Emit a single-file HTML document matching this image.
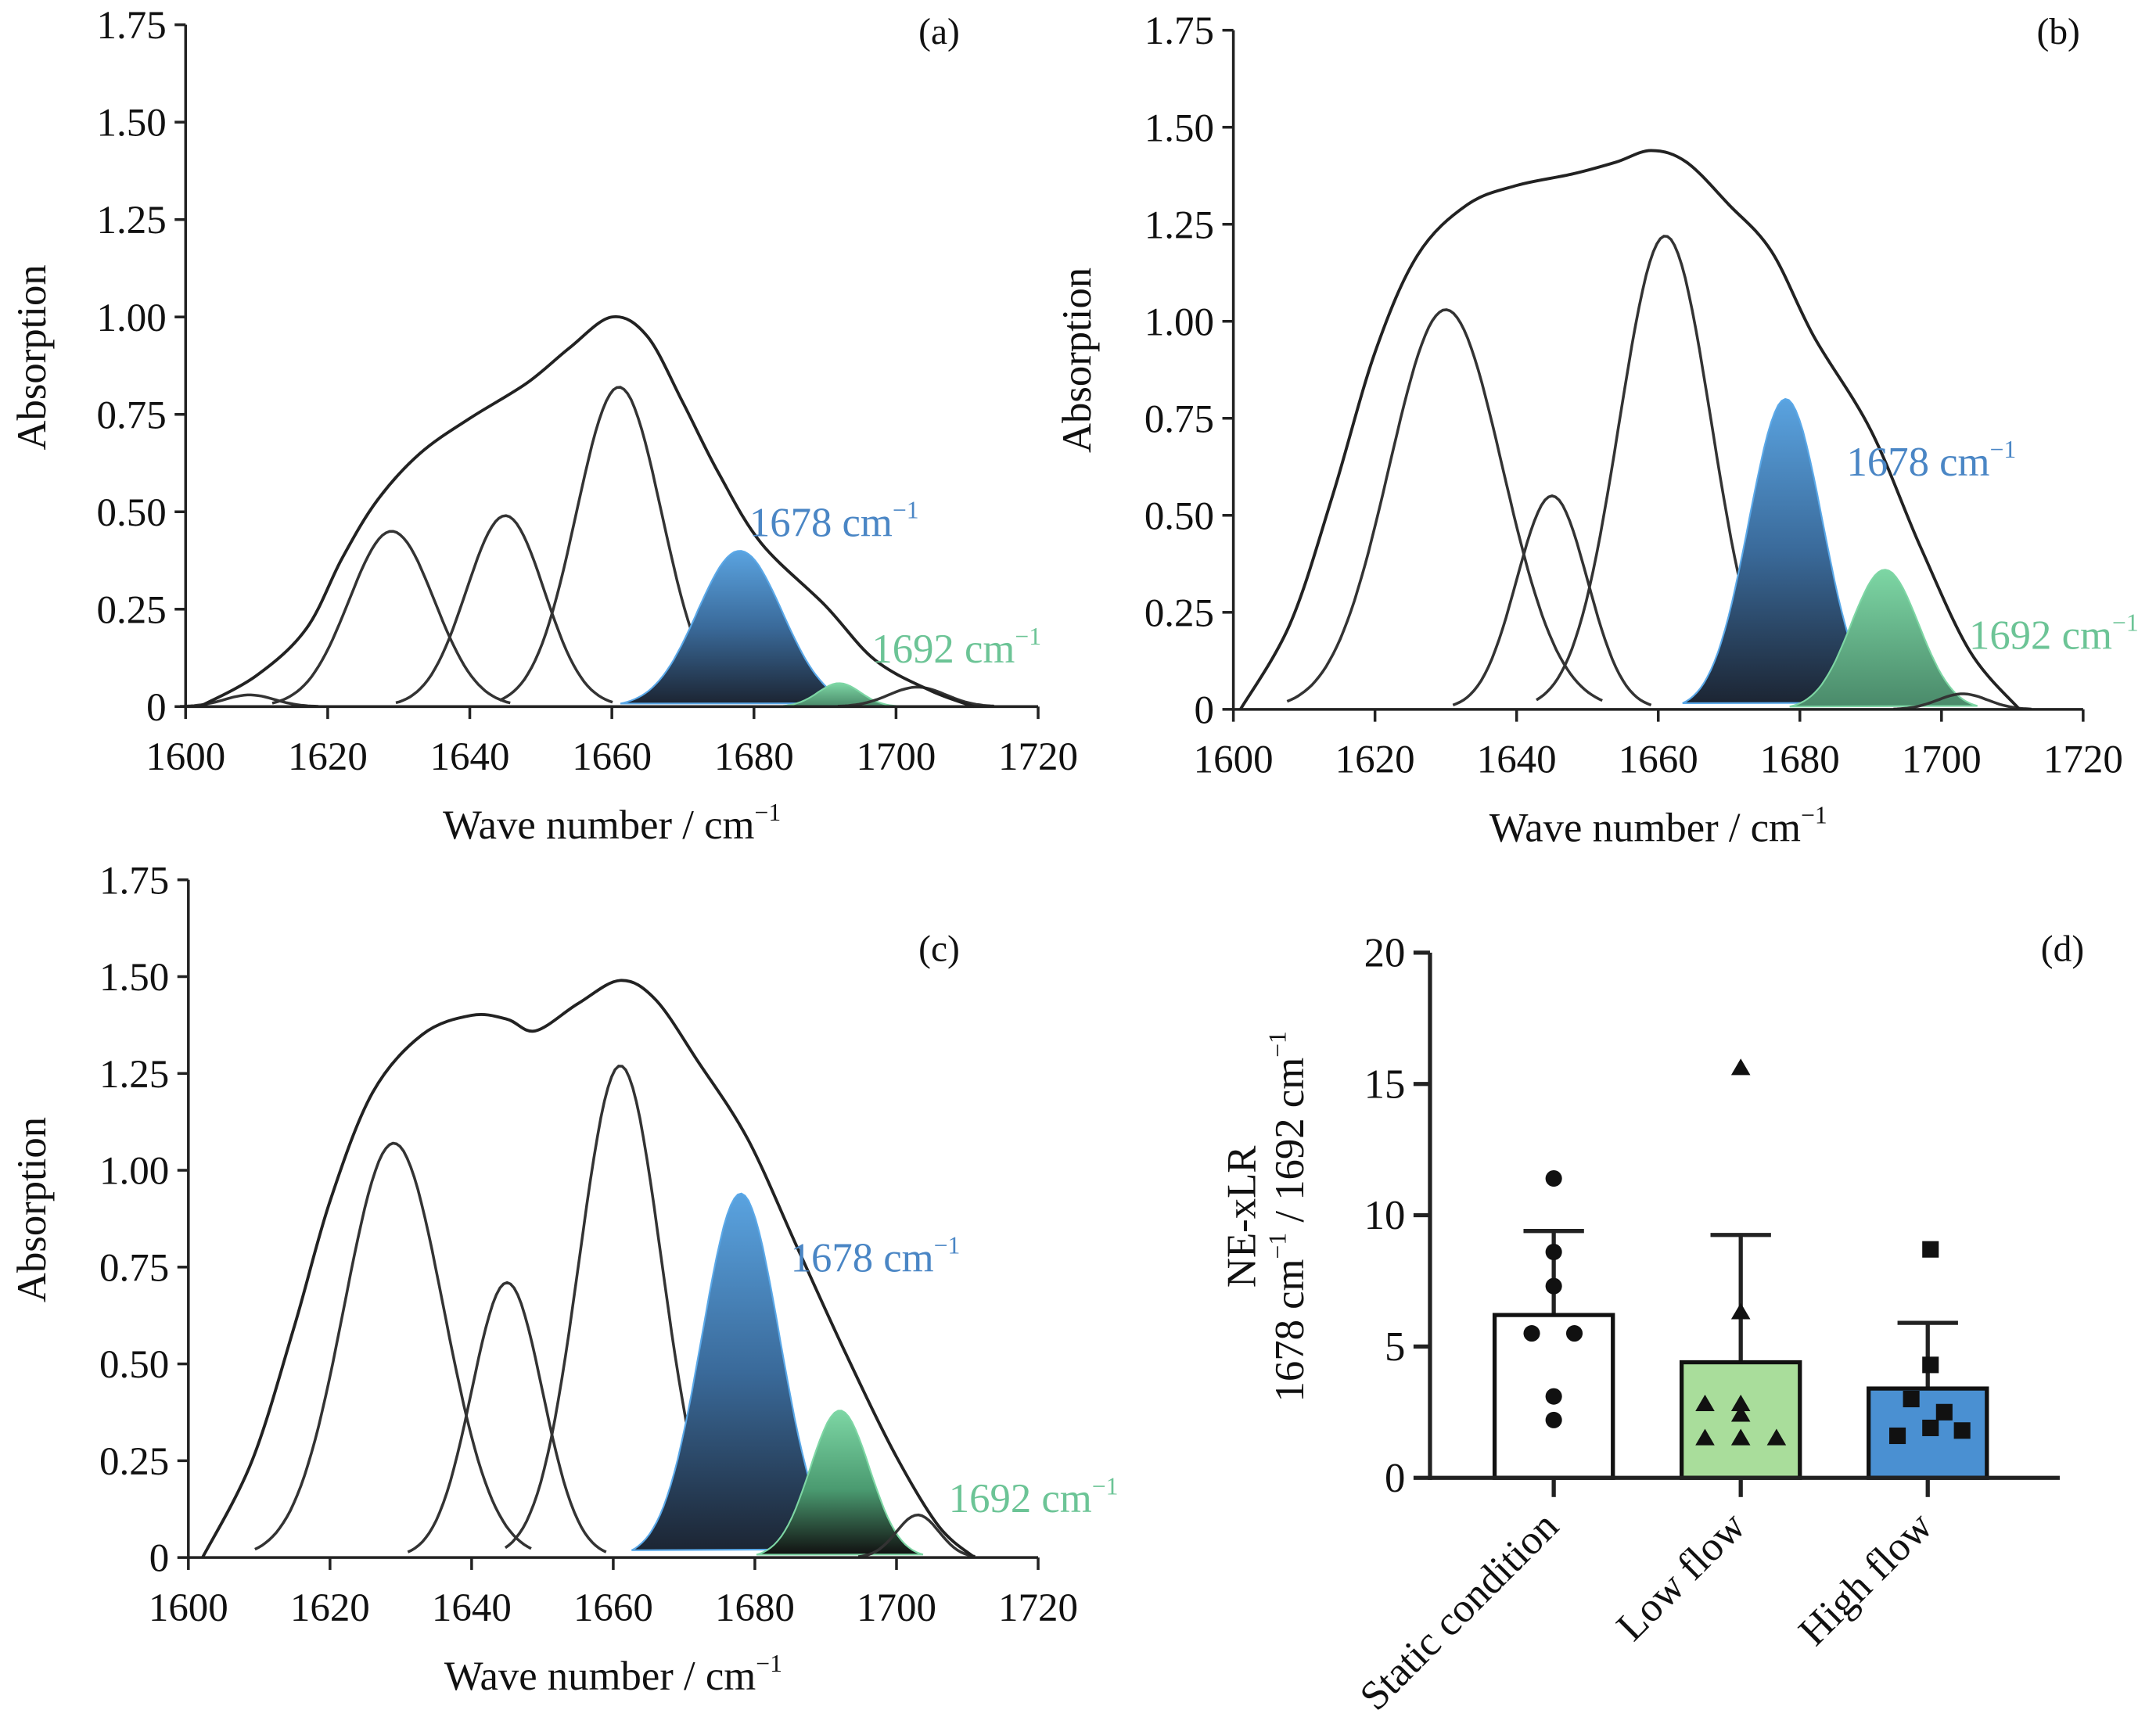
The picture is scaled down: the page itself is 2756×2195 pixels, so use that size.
<!DOCTYPE html>
<html><head><meta charset="utf-8"><style>
html,body{margin:0;padding:0;background:#fff;}
svg{display:block;}
text{font-family:"Liberation Serif",serif;fill:#111;}
</style></head><body>
<svg id="s" width="2756" height="2195" viewBox="0 0 1568 1249" preserveAspectRatio="none" xmlns="http://www.w3.org/2000/svg" font-family="Liberation Serif, serif">
<defs>
<linearGradient id="gb" x1="0" y1="0" x2="0" y2="1"><stop offset="0" stop-color="#5aa3e0"/><stop offset="0.5" stop-color="#3a6a9a"/><stop offset="1" stop-color="#1c2533"/></linearGradient>
<linearGradient id="gg" x1="0" y1="0" x2="0" y2="1"><stop offset="0" stop-color="#7dd6a4"/><stop offset="1" stop-color="#4a8a6a"/></linearGradient>
<linearGradient id="gg2" x1="0" y1="0" x2="0" y2="1"><stop offset="0" stop-color="#7dd6a4"/><stop offset="0.55" stop-color="#4a9a70"/><stop offset="1" stop-color="#111"/></linearGradient>
</defs>
<g id="g"></g>
</svg>
<script>
var G=document.getElementById('g'),out='';
function T(x,y,s,sz,anc,extra,col){out+='<text font-family="Liberation Serif, serif" x="'+x+'" y="'+y+'" font-size="'+sz+'" text-anchor="'+(anc||'start')+'" '+(extra||'')+(col?' style="fill:'+col+'"':'')+'>'+s+'</text>';}
function L(x1,y1,x2,y2,w,c){out+='<line x1="'+x1+'" y1="'+y1+'" x2="'+x2+'" y2="'+y2+'" stroke="'+(c||'#222')+'" stroke-width="'+(w||2)+'"/>';}
function panel(P){
 var X=function(v){return P.x0+(v-1600)/120*(P.x1-P.x0)},Y=function(v){return P.y0-(v/1.75)*(P.y0-P.yt)};
 P.comps.forEach(function(c){
  var pts=[];for(var v=c[0]-2.8*c[2];v<=c[0]+2.8*c[2]+0.01;v+=0.5){var h=c[1]*Math.exp(-Math.pow(v-c[0],2)/(2*c[2]*c[2]));pts.push(X(v).toFixed(1)+','+Y(h).toFixed(1));}
  if(c[3]) out+='<polygon points="'+pts.join(' ')+'" fill="'+c[3]+'" stroke="'+c[4]+'" stroke-width="1.2"/>';
  else out+='<polyline points="'+pts.join(' ')+'" fill="none" stroke="#333" stroke-width="2"/>';
 });
 var e=P.env.map(function(p){return [X(p[0]),Y(p[1])]});
 var d='M'+e[0][0]+','+e[0][1];
 for(var i=0;i<e.length-1;i++){var p0=e[Math.max(i-1,0)],p1=e[i],p2=e[i+1],p3=e[Math.min(i+2,e.length-1)];
  d+=' C'+(p1[0]+(p2[0]-p0[0])/6).toFixed(1)+','+(p1[1]+(p2[1]-p0[1])/6).toFixed(1)+' '+(p2[0]-(p3[0]-p1[0])/6).toFixed(1)+','+(p2[1]-(p3[1]-p1[1])/6).toFixed(1)+' '+p2[0].toFixed(1)+','+p2[1].toFixed(1);}
 out+='<path d="'+d+'" fill="none" stroke="#222" stroke-width="2.2"/>';
 L(P.x0,P.yt,P.x0,P.y0+1);L(P.x0,P.y0,P.x1,P.y0);
 for(var k=0;k<=7;k++){var v=k*0.25,y=Y(v);L(P.x0-8,y,P.x0,y);T(P.x0-14,y+10,k==0?'0':v.toFixed(2),29,'end');}
 for(var k=0;k<=6;k++){var v=1600+k*20,x=X(v);L(x,P.y0,x,P.y0+9);T(x,P.y0+46,v,29,'middle');}
 T((P.x0+P.x1)/2,P.y0+96,'Wave number / cm<tspan font-size="18" dy="-13">−1</tspan>',30,'middle');
 T(P.ylx,P.ylc,'Absorption',30,'middle','transform="rotate(-90 '+P.ylx+' '+P.ylc+')"');
 T(P.lx,P.ly,P.lab,27,'middle');
 T(P.b[0],P.b[1],'1678 cm<tspan font-size="18" dy="-13">−1</tspan>',30,'start','','#4a86c5');
 T(P.g[0],P.g[1],'1692 cm<tspan font-size="18" dy="-13">−1</tspan>',30,'start','','#6cc496');
}
panel({x0:135,x1:755,y0:514,yt:18,ylx:33,ylc:260,lx:683,ly:32,lab:'(a)',b:[545,390],g:[634,482],
 comps:[[1609,0.03,3.5],[1629,0.45,6],[1645,0.49,5.5],[1661,0.82,6],[1678,0.40,6,'url(#gb)','#5aa8e8'],[1692,0.06,3,'url(#gg)','#7dd6a4'],[1703,0.05,4]],
 env:[[1602,0],[1610,0.08],[1617,0.2],[1622,0.38],[1627,0.53],[1633,0.65],[1640,0.74],[1648,0.83],[1654,0.92],[1660,1.0],[1665,0.95],[1670,0.78],[1675,0.6],[1681,0.42],[1690,0.26],[1697,0.12],[1705,0.04],[1711,0]]});
panel({x0:897,x1:1515,y0:516,yt:22,ylx:793,ylc:262,lx:1497,ly:32,lab:'(b)',b:[1343,346],g:[1432,472],
 comps:[[1630,1.03,8],[1645,0.55,5],[1661,1.22,6.5],[1678,0.80,5.2,'url(#gb)','#5aa8e8'],[1692,0.36,4.8,'url(#gg)','#7dd6a4'],[1703,0.04,3.5]],
 env:[[1601,0],[1608,0.22],[1614,0.55],[1620,0.92],[1626,1.17],[1633,1.3],[1640,1.35],[1648,1.38],[1654,1.41],[1659,1.44],[1664,1.41],[1670,1.3],[1676,1.18],[1682,0.96],[1690,0.72],[1697,0.42],[1704,0.15],[1711,0]]});
panel({x0:137,x1:755,y0:1133,yt:640,ylx:33,ylc:880,lx:683,ly:699,lab:'(c)',b:[575,925],g:[690,1100],
 comps:[[1629,1.07,7],[1645,0.71,5],[1661,1.27,5.8],[1678,0.94,5.5,'url(#gb)','#5aa8e8'],[1692,0.38,4.2,'url(#gg2)','#7dd6a4'],[1703,0.11,3]],
 env:[[1602,0],[1609,0.25],[1615,0.6],[1620,0.92],[1626,1.2],[1633,1.35],[1640,1.4],[1645,1.39],[1649,1.36],[1655,1.43],[1661,1.49],[1666,1.44],[1672,1.28],[1679,1.08],[1686,0.8],[1693,0.52],[1700,0.26],[1706,0.08],[1711,0]]});
(function(){
 var x0=1040,y0=1075,yt=693,Y=function(v){return y0-v/20*(y0-yt)};
 var bars=[[1130,6.2,9.4,'#fff'],[1266,4.4,9.25,'#a9dd9b'],[1402,3.4,5.9,'#4a90d2']];
 bars.forEach(function(b){
  L(b[0],Y(b[1]),b[0],Y(b[2]),3);L(b[0]-22,Y(b[2]),b[0]+22,Y(b[2]),3);
  out+='<rect x="'+(b[0]-43)+'" y="'+Y(b[1])+'" width="86" height="'+(y0-Y(b[1]))+'" fill="'+b[3]+'" stroke="#111" stroke-width="3"/>';
  L(b[0],y0,b[0],y0+14,3);
 });
 [[1130,11.4],[1130,8.6],[1130,7.3],[1114,5.5],[1145,5.5],[1130,3.1],[1130,2.2]].forEach(function(p){out+='<circle cx="'+p[0]+'" cy="'+Y(p[1])+'" r="6" fill="#111"/>';});
 [[1266,15.6],[1266,6.3],[1240,2.8],[1266,2.8],[1266,2.4],[1240,1.5],[1266,1.5],[1292,1.5]].forEach(function(p){var x=p[0],y=Y(p[1]);out+='<polygon points="'+x+','+(y-7)+' '+(x-7)+','+(y+5)+' '+(x+7)+','+(y+5)+'" fill="#111"/>';});
 [[1404,8.7],[1404,4.3],[1390,3.0],[1414,2.5],[1404,1.9],[1380,1.6],[1427,1.8]].forEach(function(p){out+='<rect x="'+(p[0]-6)+'" y="'+(Y(p[1])-6)+'" width="12" height="12" fill="#111"/>';});
 L(x0,yt,x0,y0+1.5,3);L(x0,y0,1498,y0,3);
 for(var k=0;k<=4;k++){var v=k*5,y=Y(v);L(x0-12,y,x0,y,3);T(x0-18,y+10,v,30,'end');}
 T(1500,699,'(d)',27,'middle');
 ['Static condition','Low flow','High flow'].forEach(function(s,i){var x=[1135,1271,1407][i],y=1112;T(x,y,s,30,'end','transform="rotate(-45 '+x+' '+y+')"');});
 T(913,885,'NE-xLR',30,'middle','transform="rotate(-90 913 885)"');
 T(948,885,'1678 cm<tspan font-size="18" dy="-13">−1</tspan><tspan dy="13"> / 1692 cm</tspan><tspan font-size="18" dy="-13">−1</tspan>',30,'middle','transform="rotate(-90 948 885)"');
})();
G.innerHTML=out;
</script>
</body></html>
